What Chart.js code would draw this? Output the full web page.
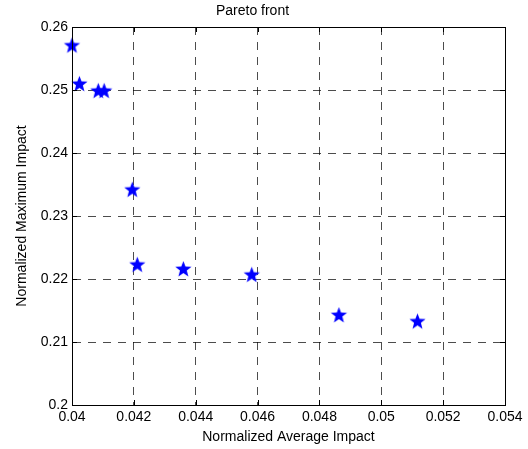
<!DOCTYPE html>
<html>
<head>
<meta charset="utf-8">
<script src="https://cdn.jsdelivr.net/npm/chart.js@4"></script>
<style>
  html, body { margin: 0; padding: 0; background: #fff; }
  #wrap { width: 528px; height: 449px; }
</style>
</head>
<body>
<div id="wrap"><canvas id="chart"></canvas></div>
<script>
// Pareto front points
const avgImpact = [0.0400, 0.04024, 0.04085, 0.04104, 0.04195, 0.04211, 0.04360, 0.04581, 0.04863, 0.05117];
const maxImpact = [0.2570, 0.2509, 0.2498, 0.2498, 0.2341, 0.2222, 0.2215, 0.2206, 0.2142, 0.2132];
const xTicks = [0.04, 0.042, 0.044, 0.046, 0.048, 0.05, 0.052, 0.054];
const yTicks = [0.2, 0.21, 0.22, 0.23, 0.24, 0.25, 0.26];

const FONT = "'Liberation Sans', Arial, sans-serif";

// five-pointed star marker like matlab 'p'
function makeStar(r) {
    const c = document.createElement('canvas');
    const s = Math.ceil(r * 2 + 2);
    c.width = s; c.height = s;
    const g = c.getContext('2d');
    g.translate(s / 2, s / 2);
    g.beginPath();
    for (let i = 0; i < 10; i++) {
        const rad = i % 2 === 0 ? r : r * 0.42;
        const a = -Math.PI / 2 + i * Math.PI / 5;
        g.lineTo(rad * Math.cos(a), rad * Math.sin(a));
    }
    g.closePath();
    g.fillStyle = '#0000ff';
    g.fill();
    return c;
}
const starImg = makeStar(8.5);

const points = avgImpact.map((x, i) => ({ x: x, y: maxImpact[i] }));

// box + inward tick marks
const boxPlugin = {
    id: 'box',
    afterDraw(chart) {
        const { ctx, chartArea: a, scales } = chart;
        ctx.save();
        ctx.strokeStyle = '#000';
        ctx.lineWidth = 1;
        ctx.beginPath();
        xTicks.forEach(v => {
            const px = Math.round(scales.x.getPixelForValue(v)) + 0.5;
            ctx.moveTo(px, a.bottom); ctx.lineTo(px, a.bottom - 5);
            ctx.moveTo(px, a.top); ctx.lineTo(px, a.top + 5);
        });
        yTicks.forEach(v => {
            const py = Math.round(scales.y.getPixelForValue(v)) + 0.5;
            ctx.moveTo(a.left, py); ctx.lineTo(a.left + 5, py);
            ctx.moveTo(a.right, py); ctx.lineTo(a.right - 5, py);
        });
        ctx.stroke();
        ctx.strokeRect(Math.round(a.left) + 0.5, Math.round(a.top) + 0.5,
            Math.round(a.right - a.left), Math.round(a.bottom - a.top));
        ctx.restore();
    }
};

new Chart(document.getElementById('chart').getContext('2d'), {
    type: 'scatter',
    data: {
        datasets: [{
            data: points,
            pointStyle: starImg,
            pointRadius: 8,
            pointHoverRadius: 8,
            backgroundColor: '#0000ff',
            borderColor: '#0000ff',
            clip: false
        }]
    },
    options: {
        responsive: true,
        maintainAspectRatio: false,
        animation: false,
        layout: { padding: { left: 0, right: 23, top: 0, bottom: 0 } },
        plugins: {
            legend: { display: false },
            tooltip: { enabled: false },
            title: {
                display: true,
                text: 'Pareto front',
                color: '#000',
                font: { family: FONT, size: 14, weight: 'normal' },
                padding: { top: 3, bottom: 7.2 }
            }
        },
        scales: {
            x: {
                type: 'linear',
                min: 0.04,
                max: 0.054,
                afterBuildTicks: s => { s.ticks = xTicks.map(v => ({ value: v })); },
                afterFit: s => { s.height = 44; },
                ticks: {
                    color: '#000',
                    padding: 4,
                    maxRotation: 0,
                    font: { family: FONT, size: 14 },
                    callback: v => String(+v.toFixed(3))
                },
                grid: {
                    color: 'rgba(0,0,0,0.7)',
                    drawTicks: false
                },
                border: { display: true, color: '#000', dash: [8, 7] },
                title: {
                    display: true,
                    text: 'Normalized Average Impact',
                    color: '#000',
                    font: { family: FONT, size: 14 },
                    padding: { top: 0, bottom: 3.6 }
                }
            },
            y: {
                type: 'linear',
                min: 0.2,
                max: 0.26,
                afterBuildTicks: s => { s.ticks = yTicks.map(v => ({ value: v })); },
                afterFit: s => { s.width = 72; },
                ticks: {
                    color: '#000',
                    padding: 4,
                    font: { family: FONT, size: 14 },
                    callback: v => String(+v.toFixed(2))
                },
                grid: {
                    color: 'rgba(0,0,0,0.7)',
                    drawTicks: false
                },
                border: { display: true, color: '#000', dash: [8, 7] },
                title: {
                    display: true,
                    text: 'Normalized Maximum Impact',
                    color: '#000',
                    font: { family: FONT, size: 14 },
                    padding: { top: 13.6, bottom: 0 }
                }
            }
        }
    },
    plugins: [boxPlugin]
});
</script>
</body>
</html>
